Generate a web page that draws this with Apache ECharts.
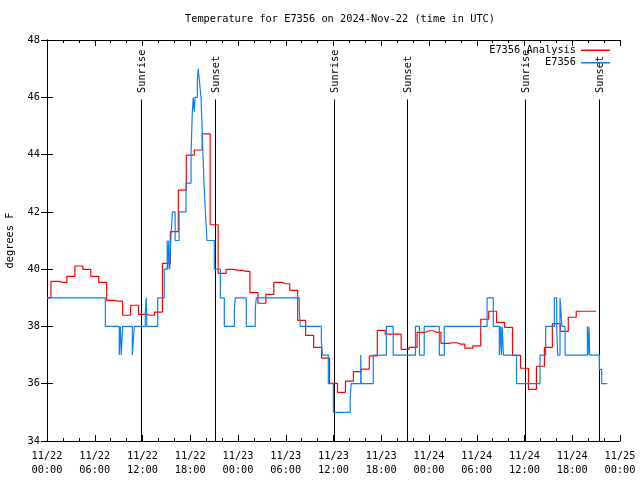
<!DOCTYPE html>
<html><head><meta charset="utf-8">
<script src="https://cdn.jsdelivr.net/npm/echarts@6/dist/echarts.min.js"></script>
<style>html,body{margin:0;padding:0;background:#fff}#c{width:640px;height:480px}</style>
</head><body><div id="c"></div>
<script>
// Hourly analysis values, hour 0 = 2024-11-22 00:00 UTC
const redValues = [
  39.0, 39.57, 39.54, 39.75, 40.11, 39.99, 39.75, 39.54, 38.91, 38.88,
  38.39, 38.74, 38.42, 38.39, 38.5, 40.2, 41.31, 42.76, 43.98, 44.16,
  44.72, 41.55, 39.85, 39.99, 39.96, 39.92, 39.18, 38.81, 39.12, 39.54,
  39.49, 39.26, 38.21, 37.69, 37.27, 36.89, 36.01, 35.7, 36.09, 36.42,
  36.51, 36.97, 37.86, 37.73, 37.73, 37.2, 37.27, 37.79, 37.85, 37.79,
  37.41, 37.43, 37.38, 37.24, 37.32, 38.25, 38.53, 38.14, 37.97, 36.99,
  36.54, 35.8, 36.61, 37.27, 38.1, 37.83, 38.32, 38.53, 38.53, 38.53
];
// Observation change times (hours since 11/22 00:00 UTC) and values (deg F)
const blueTimes = [
  0, 7.33, 9.08, 9.21, 9.33, 9.5, 10.72, 10.97, 12.35, 12.48, 12.55, 13.91,
  14.74, 15.1, 15.2, 15.3, 15.42, 15.55, 15.75, 16.1, 16.6, 17.47,
  18.1, 18.26, 18.38, 18.5, 18.6, 18.89, 19.0, 19.14, 19.35, 19.48, 19.6, 19.73, 19.9, 20.1,
  21.02, 21.78, 22.28, 23.54, 23.66, 25.04, 26.17, 26.3, 31.7, 31.83,
  34.47, 34.6, 35.35, 35.98, 38.1, 38.22, 39.42, 39.48, 41.0, 42.64, 43.5,
  46.3, 46.8, 47.4, 49.3, 49.92, 55.3, 56.08, 56.84, 57.0, 57.1, 57.2, 57.35,
  59.0, 61.95, 62.66, 63.75, 64.05, 64.17, 64.46, 64.7, 65.1,
  67.9, 68.0, 68.1, 68.2, 69.4, 69.7, 70.4
];
const blueValues = [
  39, 38, 37, 38, 37, 38, 37, 38, 38.5, 39, 38, 39,
  40, 41, 40, 41, 40, 41, 42, 41, 42, 43,
  44, 45.5, 46, 45.5, 46, 46.6, 47, 46.6, 46, 45, 44, 43, 42, 41,
  40, 39, 38, 38.6, 39, 38, 38.6, 39, 38.6, 38,
  37.5, 37, 36, 35, 35.5, 36, 37, 36, 37, 38, 37,
  38, 37, 38, 37, 38, 39, 38, 37, 38, 37, 38, 37,
  36, 37, 38, 39, 38, 37, 39, 38, 37,
  38, 37, 38, 37, 36.5, 36, 36
];
const sunTimes = [11.87, 21.17, 36.0, 45.24, 60.07, 69.3];
const sunLabels = ['Sunrise', 'Sunset', 'Sunrise', 'Sunset', 'Sunrise', 'Sunset'];
const xTickLabels = [
  '11/22\n00:00', '11/22\n06:00', '11/22\n12:00', '11/22\n18:00',
  '11/23\n00:00', '11/23\n06:00', '11/23\n12:00', '11/23\n18:00',
  '11/24\n00:00', '11/24\n06:00', '11/24\n12:00', '11/24\n18:00',
  '11/25\n00:00'
];

const FONT = "'DejaVu Sans Mono', 'Liberation Mono', monospace";
const FS = 10.3;
const RED = '#ff0000';
const BLUE = '#0f80f0';
const redData = redValues.map((v, i) => [i, v]);
const blueData = blueTimes.map((t, i) => [t, blueValues[i]]);

const tickCommon = {
  axisLine: {show: true, lineStyle: {color: '#000', width: 1}},
  axisTick: {show: true, inside: true, length: 6, lineStyle: {color: '#000', width: 1}},
  splitLine: {show: false}
};

const chart = echarts.init(document.getElementById('c'), null, {renderer: 'canvas'});
chart.setOption({
  animation: false,
  backgroundColor: '#fff',
  title: {
    text: 'Temperature for E7356 on 2024-Nov-22 (time in UTC)',
    left: 340, top: 14, textAlign: 'center', padding: 0,
    textStyle: {fontFamily: FONT, fontSize: FS, fontWeight: 'normal', color: '#000'}
  },
  legend: {
    data: ['E7356 Analysis', 'E7356'],
    orient: 'vertical', right: 30, top: 44, align: 'right',
    itemWidth: 29, itemHeight: 1.5, icon: 'rect', itemGap: 0, padding: 0,
    selectedMode: false,
    textStyle: {fontFamily: FONT, fontSize: FS, color: '#000', lineHeight: 12.5}
  },
  grid: {left: 47, right: 20, top: 40, bottom: 39, containLabel: false, outerBoundsMode: 'none'},
  xAxis: [
    Object.assign({
      type: 'value', min: 0, max: 72, interval: 6, position: 'bottom',
      minorTick: {show: true, splitNumber: 3, length: 3, lineStyle: {color: '#000'}},
      axisLabel: {
        formatter: v => xTickLabels[Math.round(v / 6)] || '',
        fontFamily: FONT, fontSize: FS, color: '#000', lineHeight: 14, margin: 8,
        showMinLabel: true, showMaxLabel: true, hideOverlap: false
      }
    }, tickCommon),
    Object.assign({
      type: 'value', min: 0, max: 72, interval: 6, position: 'top',
      minorTick: {show: true, splitNumber: 3, length: 3, lineStyle: {color: '#000'}},
      axisLabel: {show: false}
    }, tickCommon)
  ],
  yAxis: [
    Object.assign({
      type: 'value', min: 34, max: 48, interval: 2, position: 'left',
      name: 'degrees F', nameLocation: 'middle', nameGap: 32,
      nameTextStyle: {fontFamily: FONT, fontSize: FS, color: '#000'},
      axisLabel: {fontFamily: FONT, fontSize: FS, color: '#000', margin: 7}
    }, tickCommon),
    Object.assign({
      type: 'value', min: 34, max: 48, interval: 2, position: 'right',
      axisLabel: {show: false}
    }, tickCommon)
  ],
  series: [
    {
      type: 'custom', name: 'sun', xAxisIndex: 0, yAxisIndex: 0, silent: true,
      data: sunTimes.map(t => [t, 34]),
      renderItem: function (params, api) {
        const t = api.value(0);
        const top = api.coord([t, 48]);
        const bot = api.coord([t, 34]);
        const x = Math.round(top[0]) + 0.5;
        return {
          type: 'group',
          children: [
            {type: 'line', shape: {x1: x, y1: top[1] + 59.5, x2: x, y2: bot[1]},
             style: {stroke: '#000', lineWidth: 1}},
            {type: 'text', x: x + 0.5, y: top[1] + 53, rotation: Math.PI / 2,
             style: {text: sunLabels[params.dataIndex], fill: '#000',
                     font: FS + 'px ' + FONT, align: 'left', verticalAlign: 'middle'}}
          ]
        };
      }
    },
    {
      type: 'line', name: 'E7356 Analysis', data: redData, step: 'middle',
      showSymbol: false, symbol: 'none',
      lineStyle: {color: RED, width: 1.2}, itemStyle: {color: RED}, z: 3
    },
    {
      type: 'line', name: 'E7356', data: blueData, step: 'end',
      showSymbol: false, symbol: 'none',
      lineStyle: {color: BLUE, width: 1.2}, itemStyle: {color: BLUE}, z: 4
    }
  ]
});
</script>
</body></html>
